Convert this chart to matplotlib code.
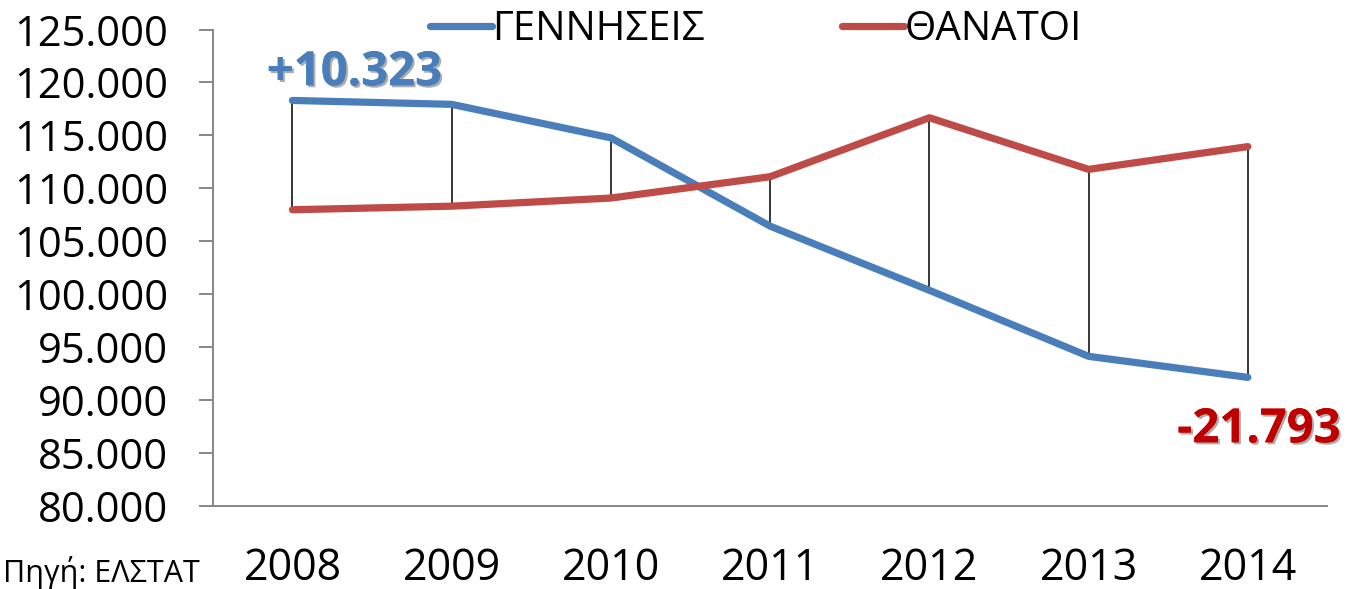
import matplotlib
matplotlib.use("Agg")
import matplotlib.pyplot as plt
import matplotlib.patheffects as pe
from matplotlib.ticker import FuncFormatter, MultipleLocator

plt.rcParams["font.family"] = ["Open Sans", "DejaVu Sans"]

# ── data ──────────────────────────────────────────────────────────────
years  = ["2008", "2009", "2010", "2011", "2012", "2013", "2014"]
births = [118302, 117933, 114766, 106428, 100371, 94134, 92149]
deaths = [107979, 108316, 109084, 111099, 116668, 111794, 113942]
label_births = "ΓΕΝΝΗΣΕΙΣ"
label_deaths = "ΘΑΝΑΤΟΙ"
diff_first = "+10.323"
diff_last  = "-21.793"
source = "Πηγή: ΕΛΣΤΑΤ"

BLUE = "#4A7EBB"
RED  = "#BE4B48"
GRAY = "#878787"

fig = plt.figure(figsize=(13.47, 5.89), dpi=100)
ax = fig.add_axes([0.158, 0.1409, 0.8275, 0.809])

x = list(range(len(years)))

# vertical connectors between the two series
ax.vlines(x, births, deaths, color="black", linewidth=1.1, zorder=2)

ax.plot(x, births, color=BLUE, linewidth=5.2, solid_capstyle="round",
        solid_joinstyle="round", label=label_births, zorder=3)
ax.plot(x, deaths, color=RED, linewidth=5.2, solid_capstyle="round",
        solid_joinstyle="round", label=label_deaths, zorder=3)

ax.set_xlim(-0.5, len(years) - 0.5)
ax.set_ylim(80000, 125000)
ax.yaxis.set_major_locator(MultipleLocator(5000))
ax.yaxis.set_major_formatter(FuncFormatter(lambda v, p: f"{int(v):,}".replace(",", ".")))
ax.set_xticks(x)
ax.set_xticklabels(years)

for s in ["top", "right"]:
    ax.spines[s].set_visible(False)
for s in ["left", "bottom"]:
    ax.spines[s].set_color(GRAY)
    ax.spines[s].set_linewidth(1.4)

ax.tick_params(axis="y", length=10, width=1.4, color=GRAY, labelsize=30, pad=22)
ax.tick_params(axis="x", length=0, labelsize=31, pad=29)

shadow = [pe.withSimplePatchShadow(offset=(1.5, -1.5), shadow_rgbFace="#777777", alpha=0.6), pe.Normal()]
ax.text(0.39, 118302 + 400, diff_first, color=BLUE, fontsize=34, fontweight="bold",
        ha="center", va="bottom", path_effects=shadow)
ax.text(6.07, 87200, diff_last, color="#C00000", fontsize=34, fontweight="bold",
        ha="center", va="center", path_effects=shadow)

fig.text(0.002, 0.028, source, fontsize=22, ha="left", va="center")

fig.legend(loc="upper center", bbox_to_anchor=(0.561, 1.045), ncol=2, frameon=False,
           fontsize=29, handlelength=1.55, handletextpad=0.0, columnspacing=3.4)

fig.savefig("out.png", dpi=100)
